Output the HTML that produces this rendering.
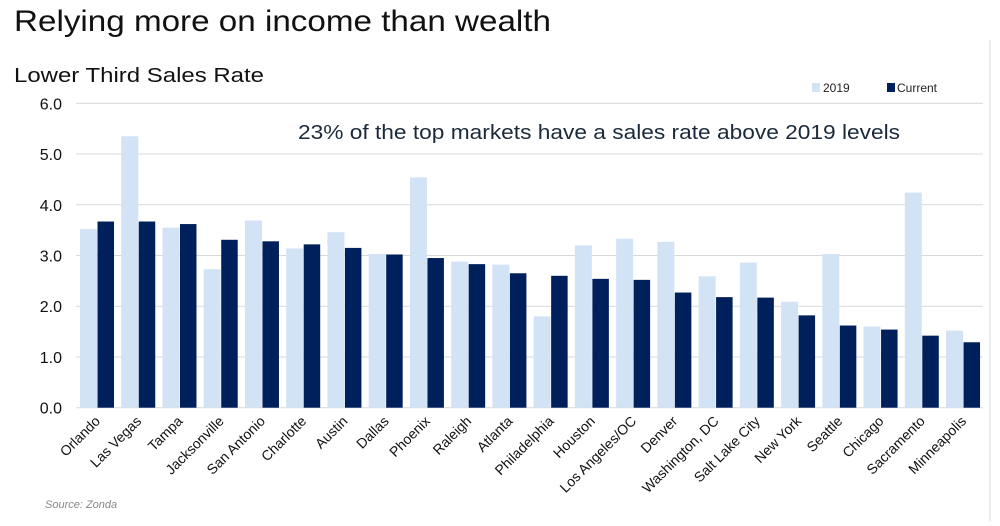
<!DOCTYPE html>
<html><head><meta charset="utf-8"><style>
body{margin:0;background:#fff;width:1000px;height:521px;overflow:hidden;font-family:"Liberation Sans",sans-serif}
</style></head><body>
<svg id="s" width="1000" height="521" xmlns="http://www.w3.org/2000/svg">
<rect width="1000" height="521" fill="#fff"/>
<line x1="990" y1="40" x2="990" y2="521" stroke="#e6e6e6" stroke-width="1.5"/>
<text x="14" y="31" font-size="30" fill="#111" textLength="537" lengthAdjust="spacingAndGlyphs">Relying more on income than wealth</text>
<text x="14" y="82" font-size="20" fill="#111" textLength="250" lengthAdjust="spacingAndGlyphs">Lower Third Sales Rate</text>
<rect x="812" y="83" width="8" height="9" fill="#d3e3f6"/><text x="823" y="92" font-size="12" fill="#222">2019</text>
<rect x="887" y="83" width="8" height="9" fill="#00205b"/><text x="897" y="92" font-size="12" fill="#222">Current</text>
<text x="298" y="139" font-size="20" fill="#1a2a3a" textLength="602" lengthAdjust="spacingAndGlyphs">23% of the top markets have a sales rate above 2019 levels</text>
<text x="45" y="508" font-size="11" font-style="italic" fill="#888">Source: Zonda</text>
<g id="g"></g>
</svg>
<script>
var names=["Orlando","Las Vegas","Tampa","Jacksonville","San Antonio","Charlotte","Austin","Dallas","Phoenix","Raleigh","Atlanta","Philadelphia","Houston","Los Angeles/OC","Denver","Washington, DC","Salt Lake City","New York","Seattle","Chicago","Sacramento","Minneapolis"];
var a=[3.52,5.35,3.55,2.73,3.69,3.14,3.46,3.03,4.54,2.88,2.82,1.80,3.20,3.33,3.27,2.59,2.86,2.09,3.03,1.60,4.24,1.52];
var b=[3.67,3.67,3.62,3.31,3.28,3.22,3.15,3.02,2.95,2.83,2.65,2.60,2.54,2.52,2.27,2.18,2.17,1.82,1.62,1.54,1.42,1.29];
var y0=407.7,u=50.73,h="";
for(var k=0;k<=6;k++){var y=y0-k*u;h+='<line x1="76" x2="983" y1="'+y+'" y2="'+y+'" stroke="#d9d9d9" stroke-width="1"/>';
h+='<text x="62" y="'+(y+6)+'" font-size="16" text-anchor="end" fill="#111">'+k+'.0</text>';}
for(var i=0;i<22;i++){var x=80+41.24*i;
h+='<rect x="'+x+'" y="'+(y0-a[i]*u)+'" width="17" height="'+(a[i]*u)+'" fill="#d3e3f6"/>';
h+='<rect x="'+(x+17.5)+'" y="'+(y0-b[i]*u)+'" width="16.5" height="'+(b[i]*u)+'" fill="#00205b"/>';
var cx=x+21,cy=422;
h+='<text x="'+cx+'" y="'+cy+'" font-size="14" text-anchor="end" fill="#111" transform="rotate(-45 '+cx+' '+cy+')">'+names[i]+'</text>';}
document.getElementById("g").innerHTML=h;
</script>
</body></html>
